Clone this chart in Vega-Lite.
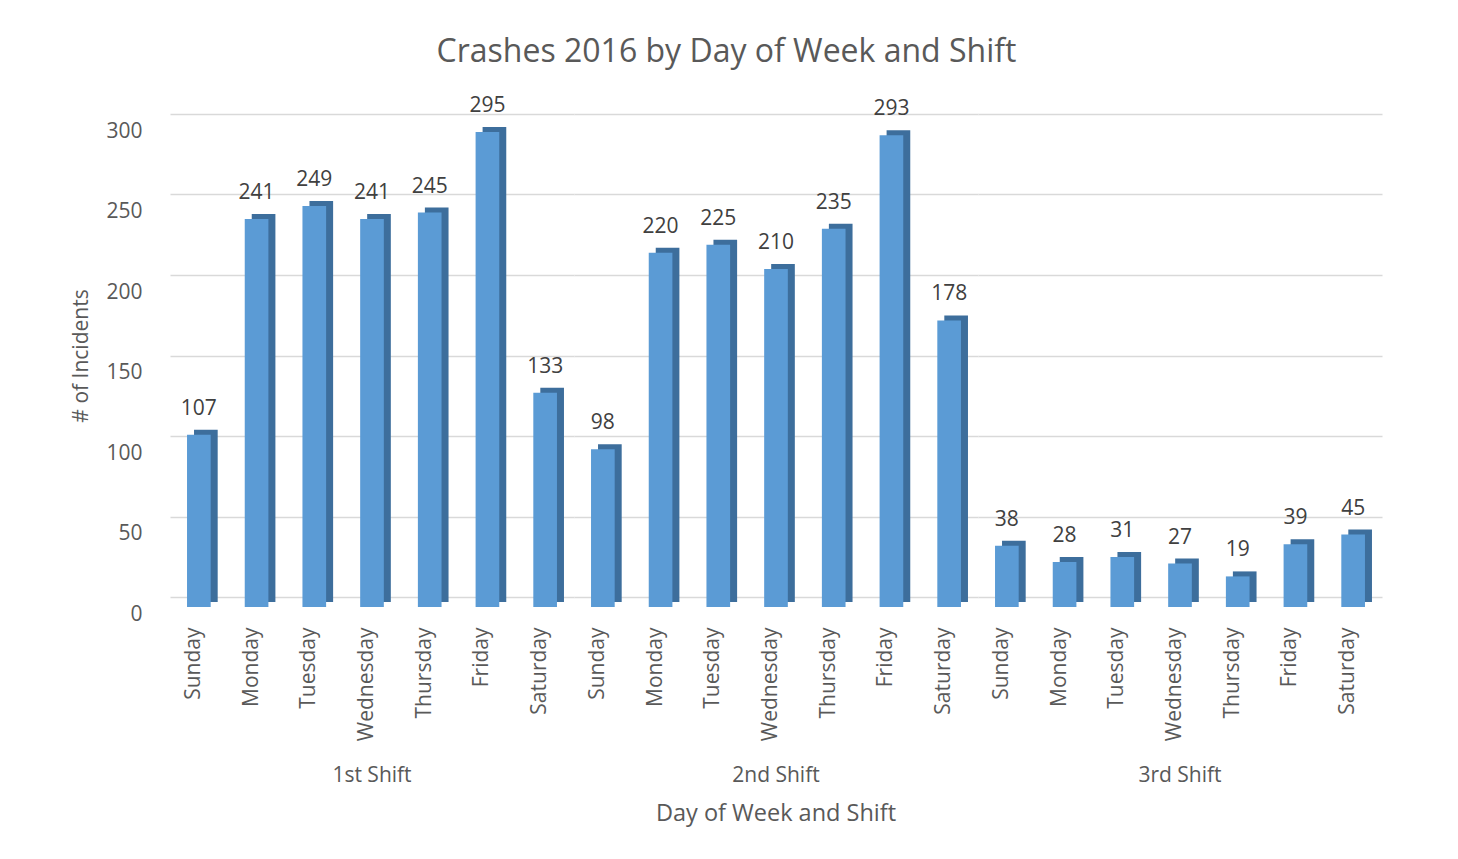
{
  "$schema": "https://vega.github.io/schema/vega-lite/v6.json",
  "background": "white",
  "padding": {"left": 70, "top": 36, "right": 10, "bottom": 10},
  "title": {
    "text": "Crashes 2016 by Day of Week and Shift",
    "fontSize": 32,
    "font": "Open Sans",
    "fontWeight": "normal",
    "color": "#595959",
    "anchor": "middle",
    "offset": 26
  },
  "data": {
    "values": [
      {"shift": "1st Shift", "day": "Sunday", "incidents": 107},
      {"shift": "1st Shift", "day": "Monday", "incidents": 241},
      {"shift": "1st Shift", "day": "Tuesday", "incidents": 249},
      {"shift": "1st Shift", "day": "Wednesday", "incidents": 241},
      {"shift": "1st Shift", "day": "Thursday", "incidents": 245},
      {"shift": "1st Shift", "day": "Friday", "incidents": 295},
      {"shift": "1st Shift", "day": "Saturday", "incidents": 133},
      {"shift": "2nd Shift", "day": "Sunday", "incidents": 98},
      {"shift": "2nd Shift", "day": "Monday", "incidents": 220},
      {"shift": "2nd Shift", "day": "Tuesday", "incidents": 225},
      {"shift": "2nd Shift", "day": "Wednesday", "incidents": 210},
      {"shift": "2nd Shift", "day": "Thursday", "incidents": 235},
      {"shift": "2nd Shift", "day": "Friday", "incidents": 293},
      {"shift": "2nd Shift", "day": "Saturday", "incidents": 178},
      {"shift": "3rd Shift", "day": "Sunday", "incidents": 38},
      {"shift": "3rd Shift", "day": "Monday", "incidents": 28},
      {"shift": "3rd Shift", "day": "Tuesday", "incidents": 31},
      {"shift": "3rd Shift", "day": "Wednesday", "incidents": 27},
      {"shift": "3rd Shift", "day": "Thursday", "incidents": 19},
      {"shift": "3rd Shift", "day": "Friday", "incidents": 39},
      {"shift": "3rd Shift", "day": "Saturday", "incidents": 45}
    ]
  },
  "facet": {
    "column": {
      "field": "shift",
      "type": "nominal",
      "sort": ["1st Shift", "2nd Shift", "3rd Shift"],
      "title": "Day of Week and Shift",
      "header": {
        "labelOrient": "bottom",
        "titleOrient": "bottom",
        "labelFont": "Open Sans",
        "labelFontSize": 21,
        "labelColor": "#595959",
        "labelPadding": 24,
        "titleFont": "Open Sans",
        "titleFontSize": 23.5,
        "titleFontWeight": "normal",
        "titleColor": "#595959",
        "titlePadding": 6
      }
    }
  },
  "spacing": 0,
  "spec": {
    "width": 404,
    "height": 483,
    "encoding": {
      "x": {
        "field": "day",
        "type": "nominal",
        "sort": ["Sunday", "Monday", "Tuesday", "Wednesday", "Thursday", "Friday", "Saturday"],
        "scale": {"paddingInner": 0.59, "paddingOuter": 0.295},
        "axis": {
          "title": null,
          "labelAngle": -90,
          "labelFont": "Open Sans",
          "labelFontSize": 21,
          "labelColor": "#595959",
          "labelPadding": 20,
          "labelOffset": -5,
          "domain": false,
          "ticks": false,
          "grid": false
        }
      },
      "y": {
        "field": "incidents",
        "type": "quantitative",
        "scale": {"domain": [0, 300], "nice": false},
        "axis": {
          "title": "# of Incidents",
          "titleFont": "Open Sans",
          "titleFontSize": 21,
          "titleFontWeight": "normal",
          "titleColor": "#595959",
          "titlePadding": 14,
          "values": [0, 50, 100, 150, 200, 250, 300],
          "labelFont": "Open Sans",
          "labelFontSize": 21,
          "labelColor": "#595959",
          "labelPadding": 28,
          "labelOffset": 17,
          "domain": false,
          "ticks": false,
          "grid": true,
          "gridColor": "#d9d9d9",
          "gridWidth": 1.5
        }
      }
    },
    "layer": [
      {
        "mark": {"type": "bar", "color": "#3d6e9c", "xOffset": 7, "x2Offset": 7, "yOffset": 5, "y2Offset": 7}
      },
      {
        "mark": {"type": "bar", "color": "#5b9bd5", "yOffset": 10, "y2Offset": 10}
      },
      {
        "mark": {"type": "text", "font": "Open Sans", "fontSize": 21, "color": "#404040", "baseline": "middle", "dy": -16},
        "encoding": {"text": {"field": "incidents", "type": "quantitative"}}
      }
    ]
  },
  "config": {
    "view": {"stroke": null}
  }
}
